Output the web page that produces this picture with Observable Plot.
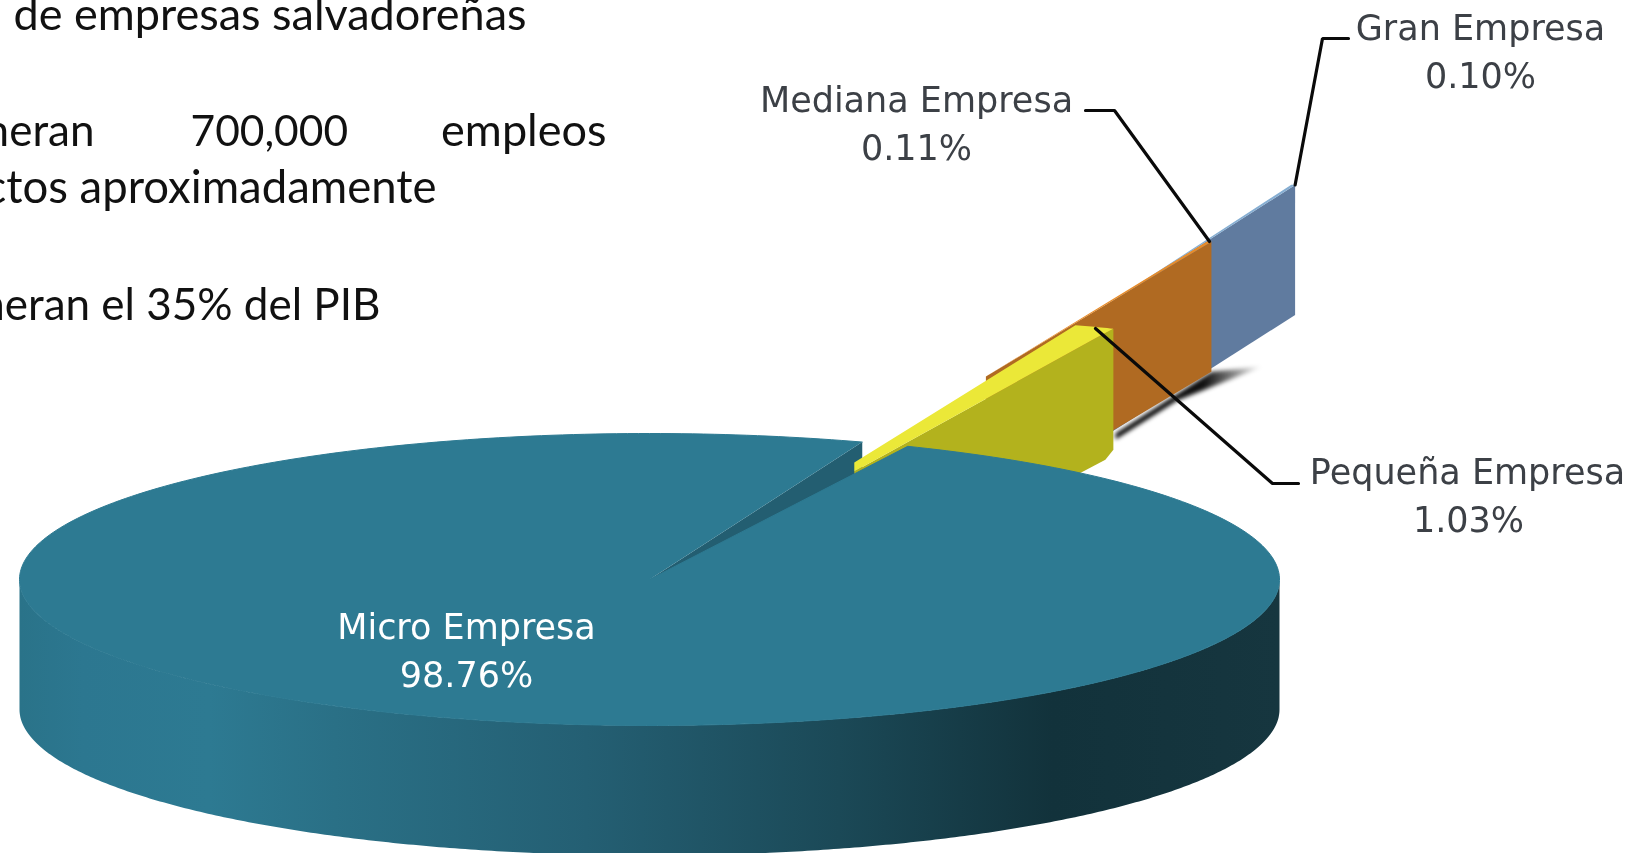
<!DOCTYPE html>
<html>
<head>
<meta charset="utf-8">
<style>html,body{margin:0;padding:0;background:#fff}svg{display:block;filter:blur(0.7px)}</style>
<script src="https://cdn.jsdelivr.net/npm/d3@7"></script>
<script src="https://cdn.jsdelivr.net/npm/@observablehq/plot@0.6"></script>
</head>
<body>
<script>
// ---- values ----
const segmentos = ["Micro Empresa", "Pequeña Empresa", "Mediana Empresa", "Gran Empresa"];
const porcentajes = [98.76, 1.03, 0.11, 0.10];
const etiquetas = ["98.76%", "1.03%", "0.11%", "0.10%"];
const lineasTexto = ["de empresas salvadoreñas", "generan", "700,000", "empleos", "directos aproximadamente", "generan el 35% del PIB"];

// ---- page geometry: pixels per pie radius, and the pie's centre ----
const W = 1632, H = 853, CX = 649, CY = 579, RX = 630, RY = 146;
const PROF = 130 / RY;                 // pie depth in radius units
const INICIO = 24.2;                   // where the Micro slice starts, degrees clockwise from north
const px = v => (v - CX) / RX, py = v => (CY - v) / RY;   // page position -> pie plane

const pol = (grados, r = 1, o = [0, 0]) => {
  const a = grados * Math.PI / 180;
  return [o[0] + r * Math.sin(a), o[1] + r * Math.cos(a)];
};
const abajo = ([a, b]) => [a, b - PROF];
const arco = (g0, g1, r = 1, o = [0, 0], n = 360) =>
  d3.range(n + 1).map(i => pol(g0 + (g1 - g0) * i / n, r, o));

// Micro slice: sweep read directly from its share
const barrido = porcentajes[0] * 3.6;
const fin = INICIO + barrido;
const tapa = [[0, 0], ...arco(INICIO, fin)];
const cara = [[0, 0], pol(fin), abajo(pol(fin)), abajo([0, 0])];
const lateral = [...arco(270, 90), ...arco(90, 270).map(abajo)];

// Exploded slices: wedge of the share's angle pulled out along the ray
function cuna(i, desplaza, dirExp, dirCuna, radio, bisel) {
  const m = porcentajes[i] * 1.8;
  const o = pol(dirExp, desplaza);
  const B = pol(dirCuna - m, radio, o), C = pol(dirCuna + m, radio, o);
  const arcoExt = arco(dirCuna - m, dirCuna + m, radio, o, 12);
  if (!bisel) return {top: [o, ...arcoExt], wall: [o, C, abajo(C), abajo(o)], o, B, C};
  const d = bisel / RY;
  const E = [o[0], o[1] - d];
  const D = [C[0] - 17 / RX, C[1] - 9 / RY];
  const Cb = abajo(C);
  return {
    top: [o, ...arcoExt, D, E],
    wall: [E, D, C, [Cb[0], Cb[1] + 9 / RY], [Cb[0] - 8 / RX, Cb[1] - 1 / RY], abajo(o)],
    o, B, C
  };
}
const peq = cuna(1, 0.864, 22.1, 22.3, 1.005, 9);
const med = cuna(2, 1.49, 21.0, 21.0, 0.99);
const gra = cuna(3, 1.87, 21.2, 19.8, 1.02);

const sombra = [abajo(med.C), [px(1262), py(366)], [px(1177), py(400)], [px(1115), py(439)], [px(1115), py(433)]];

const poly = (pts, fill, extra = {}) => Plot.line(pts, {x: d => d[0], y: d => d[1], fill, stroke: "none", ...extra});
const trazo = pts => Plot.line(pts, {x: d => d[0], y: d => d[1], stroke: "#0a0a0a", strokeWidth: 3.2, strokeLinejoin: "miter"});
const txt = (t, x, y, opts = {}) => Plot.text([t], {
  text: d => d, x: px(x), y: py(y), textAnchor: "middle", lineAnchor: "middle",
  fontFamily: "'DejaVu Sans'", fontSize: 35, fill: "#3c4046", ...opts
});
const cuerpo = {fontFamily: "Lato", fontSize: 45, fill: "#111", lineAnchor: "bottom"};

const defs = () => {
  const svgNS = "http://www.w3.org/2000/svg";
  const d = document.createElementNS(svgNS, "defs");
  d.innerHTML = `
  <linearGradient id="lado" x1="0" x2="1" y1="0" y2="0">
    <stop offset="0" stop-color="#2a7389"/><stop offset="0.05" stop-color="#2c7790"/>
    <stop offset="0.15" stop-color="#2d7a92"/><stop offset="0.25" stop-color="#2a7086"/>
    <stop offset="0.45" stop-color="#245f73"/>
    <stop offset="0.65" stop-color="#1b4957"/><stop offset="0.82" stop-color="#12323b"/>
    <stop offset="1" stop-color="#16363f"/>
  </linearGradient>
  <linearGradient id="sombra" x1="0" x2="1" y1="0" y2="0">
    <stop offset="0" stop-color="#000"/><stop offset="0.6" stop-color="#111"/>
    <stop offset="1" stop-color="#000" stop-opacity="0"/>
  </linearGradient>`;
  return d;
};

const chart = Plot.plot({
  width: W, height: H, margin: 0,
  style: {background: "#fff", overflow: "hidden"},
  x: {axis: null, domain: [px(0), px(W)], range: [0, W]},
  y: {axis: null, domain: [py(H), py(0)], range: [H, 0]},
  marks: [
    defs,
    poly(lateral, "url(#lado)"),
    poly(cara, "#235e71"),
    poly(sombra, "url(#sombra)", {imageFilter: "blur(2px)"}),
    poly(gra.wall, "#607b9f"), poly(gra.top, "#86aed2"),
    poly(med.wall, "#b06a22"), poly(med.top, "#e88c2a"),
    poly(peq.wall, "#b3b21d"), poly(peq.top, "#ebe838"),
    poly(tapa, "#2d7a92", {stroke: "#2d7a92", strokeWidth: 1}),

    trazo([[px(1348), py(38)], [px(1322), py(38)], gra.C]),
    trazo([[px(1085), py(110)], [px(1114), py(110)], [px(1209), py(241)]]),
    trazo([[px(1095), py(328)], [px(1272), py(483)], [px(1298), py(483)]]),

    txt(segmentos[3], 1480, 28), txt(etiquetas[3], 1480, 76),
    txt(segmentos[2], 916, 100), txt(etiquetas[2], 916, 148),
    txt(segmentos[1], 1467, 472), txt(etiquetas[1], 1468, 520),
    txt(segmentos[0], 466, 627, {fill: "#fff"}), txt(etiquetas[0], 466, 675, {fill: "#fff"}),

    txt(lineasTexto[0], 13, 29, {...cuerpo, textAnchor: "start"}),
    txt(lineasTexto[1], 94, 145, {...cuerpo, fontSize: 44, textAnchor: "end"}),
    txt(lineasTexto[2], 190, 145, {...cuerpo, fontSize: 42.5, textAnchor: "start"}),
    txt(lineasTexto[3], 606, 145, {...cuerpo, textAnchor: "end"}),
    txt(lineasTexto[4], 436, 202, {...cuerpo, fontSize: 45.5, textAnchor: "end"}),
    txt(lineasTexto[5], 380, 319, {...cuerpo, fontSize: 44, textAnchor: "end"})
  ]
});
document.body.appendChild(chart);
</script>
</body>
</html>
